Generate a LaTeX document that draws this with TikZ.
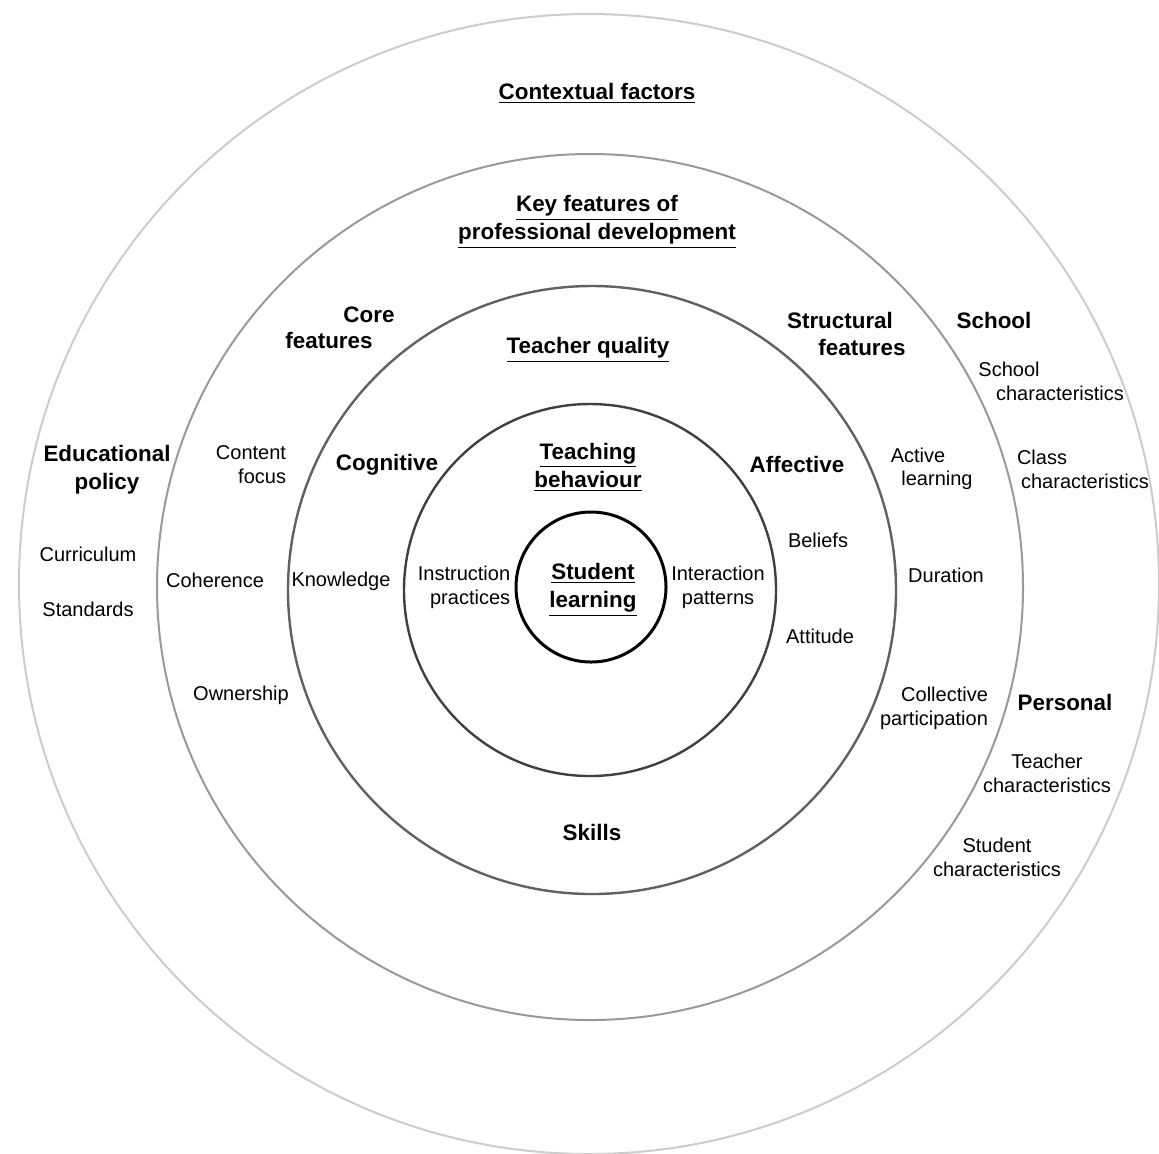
\documentclass[tikz,border=0pt]{standalone}
\usepackage{fontspec}
\setmainfont{Liberation Sans}
\usetikzlibrary{positioning}

\begin{document}
\begin{tikzpicture}[x=0.5pt, y=-0.5pt, every node/.style={align=center, inner sep=1pt},
    ring/.style={line width=1pt},
    entry/.style={font=\fontsize{10}{12}\selectfont},
    heading/.style={font=\fontsize{11.2}{14}\selectfont\bfseries}]
    \useasboundingbox (0,0) rectangle (1159,1153);

    % concentric rings
    \draw[ring, black!20] (589,584) circle (570);
    \draw[ring, black!40] (590,587) circle (433);
    \draw[ring, line width=1.2pt, black!62] (592,590) circle (304);
    \draw[ring, line width=1.2pt, black!75] (590,590) circle (186);
    \node (center) at (591,587) [draw, circle, line width=1.5pt, minimum size=75pt] {};

    % contextual factors
    \node (context) at (597,93) [heading] {\underline{Contextual factors}};
    \node (policy) at (107,470) [heading] {Educational\\policy};
    \node (curriculum) at (88,554) [entry] {Curriculum};
    \node (standards) at (88,609) [entry] {Standards};
    \node (school) at (994,320) [heading] {School};
    \node (school_char) at (1009,369) [entry] {School};
    \node (school_char2) at (1060,393) [entry] {characteristics};
    \node (class_char) at (1042,457) [entry] {Class};
    \node (class_char2) at (1085,481) [entry] {characteristics};
    \node (personal) at (1065,702) [heading] {Personal};
    \node (teacher_char) at (1047,773) [entry] {Teacher\\characteristics};
    \node (student_char) at (997,857) [entry] {Student\\characteristics};

    % professional development
    \node (key_features) at (597,222) [heading] {\underline{Key features of}\\\underline{professional development}};
    \node (core) at (369,315) [heading] {Core};
    \node (core_feat) at (329,340) [heading] {features};
    \node (content) at (251,465) [entry, align=right] {Content\\focus};
    \node (coherence) at (215,580) [entry] {Coherence};
    \node (ownership) at (241,695) [entry] {Ownership};
    \node (structural) at (840,320) [heading] {Structural};
    \node (structural_feat) at (862,347) [heading] {features};
    \node (active) at (918,455) [entry] {Active};
    \node (active2) at (937,480) [entry] {learning};
    \node (duration) at (946,575) [entry] {Duration};
    \node (collective) at (934,708) [entry, align=right] {Collective\\participation};

    % teacher quality
    \node (quality) at (588,350) [heading] {\underline{Teacher quality}};
    \node (cognitive) at (387,465) [heading] {Cognitive};
    \node (knowledge) at (341,581) [entry] {Knowledge};
    \node (affective) at (797,464) [heading] {Affective};
    \node (beliefs) at (818,540) [entry] {Beliefs};
    \node (attitude) at (820,636) [entry] {Attitude};
    \node (skills) at (592,832) [heading] {Skills};

    % teaching behaviour
    \node (behaviour) at (588,467) [heading] {\underline{Teaching}\\\underline{behaviour}};
    \node (instruction) at (464,587) [entry, align=right] {Instruction\\practices};
    \node (interaction) at (718,587) [entry] {Interaction\\patterns};
    \node (learning) at (593,590) [heading] {\underline{Student}\\\underline{learning}};
\end{tikzpicture}
\end{document}
